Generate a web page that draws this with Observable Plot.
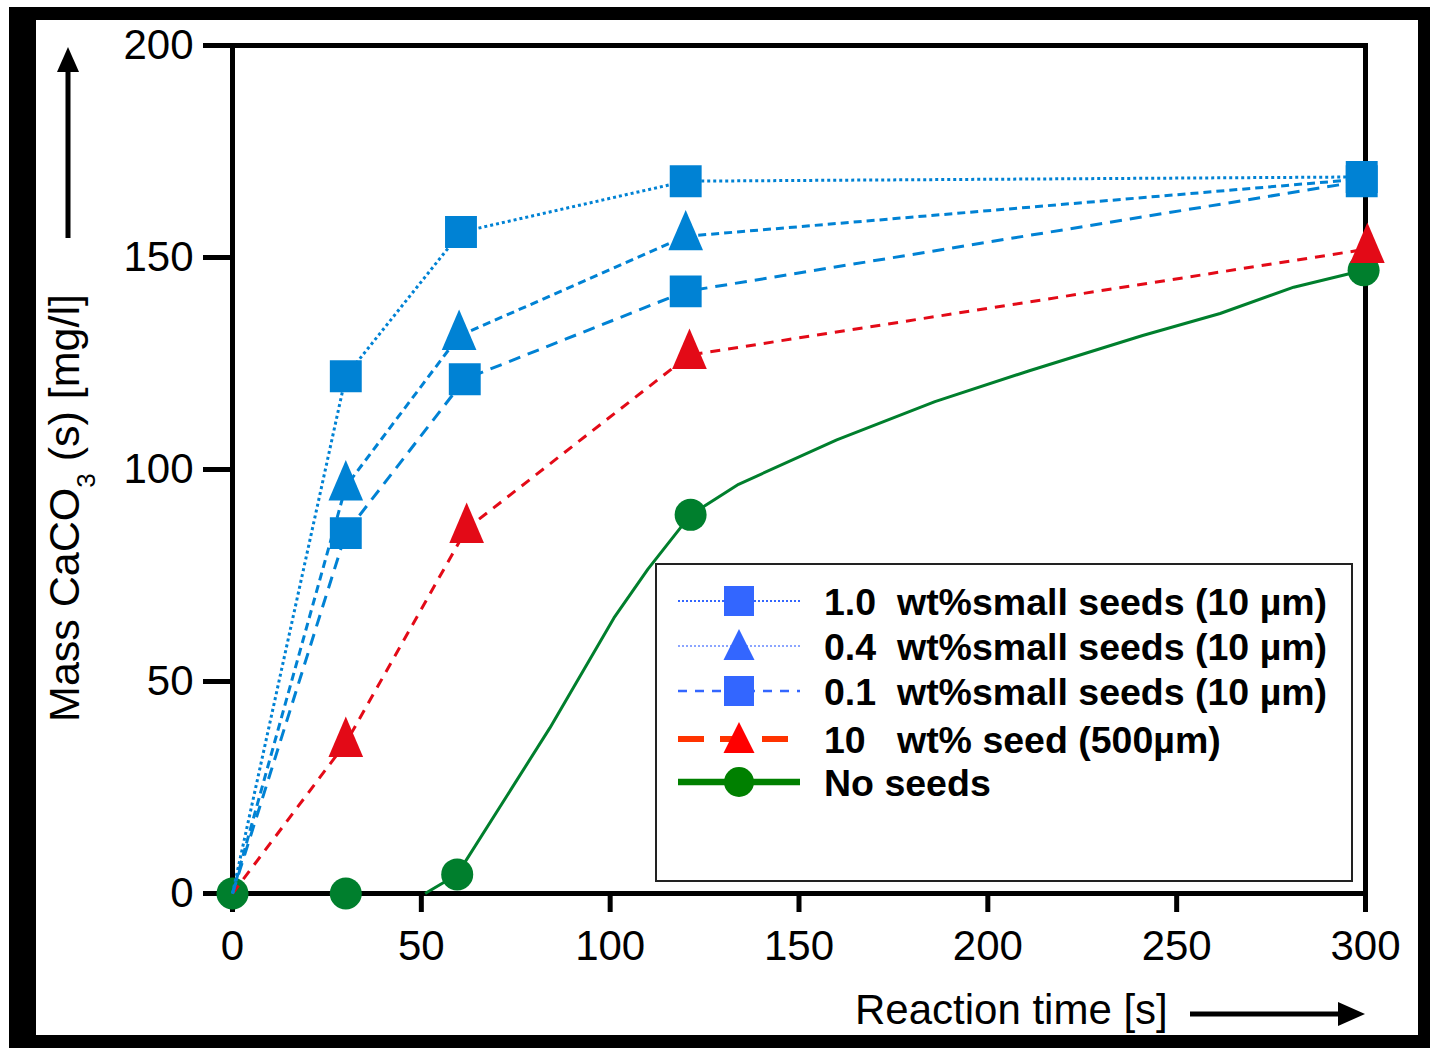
<!DOCTYPE html>
<html>
<head>
<meta charset="utf-8">
<script src="https://cdn.jsdelivr.net/npm/d3@7"></script>
<script src="https://cdn.jsdelivr.net/npm/@observablehq/plot@0.6"></script>
<style>
  html, body { margin: 0; padding: 0; background: #fff; }
  #wrap { position: relative; width: 1430px; height: 1048px; overflow: hidden; }
  #frame { position: absolute; left: 9px; top: 7px; width: 1421px; height: 1041px; box-sizing: border-box;
           border-left: 27px solid #000; border-top: 13px solid #000; border-right: 12px solid #000; border-bottom: 13px solid #000;
           pointer-events: none; }
  svg text { font-family: "Liberation Sans", Arial, sans-serif; }
</style>
</head>
<body>
<div id="wrap"><div id="frame"></div></div>
<script>
// ---- data ----
const xTicks = [0, 50, 100, 150, 200, 250, 300];
const yTicks = [0, 50, 100, 150, 200];

const t10 = [0, 30, 60.5, 120, 299];
const m10 = [0, 122, 156, 168, 169];

const t04 = [0, 30, 60, 120, 299];
const m04 = [0, 96, 131.5, 155, 168.5];

const t01 = [0, 30, 61.5, 120, 299];
const m01 = [0, 85, 121.3, 142, 168];

const tRed = [0, 30, 62, 121, 300.5];
const mRed = [0, 35.5, 86, 127, 152];

const tGreen = [0, 30, 59.5, 121.3, 299.5];
const mGreen = [0, 0, 4.5, 89.3, 147];

const tGreenCurve = [51, 59.5, 84, 101, 110, 121.3, 134, 160, 186, 211, 241, 261.5, 281, 299.5];
const mGreenCurve = [0, 4.5, 39, 65, 76.5, 89.3, 96.5, 107, 116, 123.3, 131.6, 136.8, 143, 147];

const legendLabels = [
  "1.0  wt%small seeds (10 µm)",
  "0.4  wt%small seeds (10 µm)",
  "0.1  wt%small seeds (10 µm)",
  "10   wt% seed (500µm)",
  "No seeds"
];

const BLUE = "#0082d4", RED = "#e30a17", GREEN = "#007f2d";
const zip = (ts, ms) => ts.map((t, i) => ({t, m: ms[i]}));

const d10 = zip(t10, m10), d04 = zip(t04, m04), d01 = zip(t01, m01);
const dRed = zip(tRed, mRed), dGreen = zip(tGreen, mGreen), dGreenCurve = zip(tGreenCurve, mGreenCurve);

// custom triangle: data point ~ 60% down the triangle
const tri = {
  draw(ctx, size) {
    const r = Math.sqrt(size / Math.PI);
    ctx.moveTo(0, -1.6 * r);
    ctx.lineTo(1.05 * r, 0.85 * r);
    ctx.lineTo(-1.05 * r, 0.85 * r);
    ctx.closePath();
  }
};

const lineOpts = (stroke, dash, w = 3) => ({x: "t", y: "m", stroke, strokeWidth: w, strokeDasharray: dash, strokeLinecap: "butt"});
const noZero = d => d.filter(p => p.t > 0);
// in the reference the 0.4 triangle at 300 s is hidden under the squares
const interior = d => d.filter(p => p.t > 0 && p.t < 290);

const chart = Plot.plot({
  width: 1430, height: 1048,
  marginLeft: 232, marginRight: 65, marginTop: 45, marginBottom: 155,
  x: {domain: [0, 300]},
  y: {domain: [0, 200]},
  style: {background: "transparent", overflow: "visible", fontFamily: "Liberation Sans, Arial, sans-serif", color: "#000"},
  marks: [
    Plot.axisX({ticks: xTicks, tickSize: 19, tickPadding: 18, strokeWidth: 5, fontSize: 42, label: null, tickFormat: d => String(d)}),
    Plot.axisY({ticks: yTicks, tickSize: 29, tickPadding: 10, strokeWidth: 5, fontSize: 42, label: null, tickFormat: d => String(d)}),
    Plot.frame({stroke: "#000", strokeWidth: 5}),
    // No seeds
    Plot.line(dGreenCurve, lineOpts(GREEN, null, 3)),
    Plot.dot(dGreen, {x: "t", y: "m", r: 16, fill: GREEN, symbol: "circle"}),
    // 10 wt% seed
    Plot.line(dRed, lineOpts(RED, "10,8", 3)),
    Plot.dot(noZero(dRed), {x: "t", y: "m", r: 16.5, fill: RED, symbol: tri}),
    // 0.4
    Plot.line(d04, lineOpts(BLUE, "8,5", 3)),
    Plot.dot(interior(d04), {x: "t", y: "m", r: 16.5, fill: BLUE, symbol: tri}),
    // 0.1
    Plot.line(d01, lineOpts(BLUE, "12,8", 3)),
    Plot.dot(noZero(d01), {x: "t", y: "m", r: 18, fill: BLUE, symbol: "square"}),
    // 1.0
    Plot.line(d10, lineOpts(BLUE, "3,3", 3)),
    Plot.dot(noZero(d10), {x: "t", y: "m", r: 18, fill: BLUE, symbol: "square"})
  ]
});

const wrap = document.getElementById("wrap");
wrap.insertBefore(chart, wrap.firstChild);
chart.style.position = "absolute";
chart.style.left = "0px";
chart.style.top = "0px";

const svg = d3.select(chart);

// y axis title
const yt = svg.append("text")
  .attr("transform", "translate(79,508) rotate(-90)")
  .attr("text-anchor", "middle")
  .attr("font-size", 43)
  .attr("fill", "#000");
yt.append("tspan").text("Mass CaCO");
yt.append("tspan").attr("font-size", 26).attr("dy", 16).text("3");
yt.append("tspan").attr("dy", -16).text(" (s) [mg/l]");

// y arrow
svg.append("line").attr("x1", 68).attr("y1", 238).attr("x2", 68).attr("y2", 68).attr("stroke", "#000").attr("stroke-width", 5);
svg.append("path").attr("d", "M57,72 L79,72 L68,47 Z").attr("fill", "#000");

// x axis title
svg.append("text").attr("x", 855).attr("y", 1024).attr("font-size", 42).attr("text-anchor", "start").attr("fill", "#000").text("Reaction time [s]");
svg.append("line").attr("x1", 1190).attr("y1", 1014).attr("x2", 1342).attr("y2", 1014).attr("stroke", "#000").attr("stroke-width", 5);
svg.append("path").attr("d", "M1338,1002 L1338,1026 L1365,1014 Z").attr("fill", "#000");

// legend
const lg = svg.append("g");
lg.append("rect").attr("x", 656).attr("y", 564).attr("width", 696).attr("height", 317)
  .attr("fill", "#fff").attr("stroke", "#222").attr("stroke-width", 2);
const LB = "#3366ff";
const rows = [601, 646, 691, 739, 782];
const samples = [
  {stroke: LB, w: 2, dash: "2,2", fill: LB, sym: "square"},
  {stroke: "#6688ff", w: 1.6, dash: "2,2", fill: LB, sym: "tri"},
  {stroke: LB, w: 2.5, dash: "9,8", fill: LB, sym: "square"},
  {stroke: "#ff3300", w: 6, dash: "26,16", fill: "#ff0000", sym: "tri"},
  {stroke: "#008000", w: 6.5, dash: null, fill: "#008000", sym: "circle"}
];
samples.forEach((s, i) => {
  const y = rows[i];
  const l = lg.append("line").attr("x1", 678).attr("x2", 800).attr("y1", y).attr("y2", y)
    .attr("stroke", s.stroke).attr("stroke-width", s.w);
  if (s.dash) l.attr("stroke-dasharray", s.dash);
  if (s.sym === "square") lg.append("rect").attr("x", 724).attr("y", y - 15).attr("width", 30).attr("height", 30).attr("fill", s.fill);
  if (s.sym === "tri") lg.append("path").attr("d", `M739,${y - 17} L754.5,${y + 14} L723.5,${y + 14} Z`).attr("fill", s.fill);
  if (s.sym === "circle") lg.append("ellipse").attr("cx", 739).attr("cy", y).attr("rx", 15).attr("ry", 15).attr("fill", s.fill);
  lg.append("text").attr("x", 824).attr("y", y + 14).attr("font-size", 37.5).attr("font-weight", "bold")
    .attr("text-anchor", "start").attr("fill", "#000").style("white-space", "pre").attr("xml:space", "preserve").text(legendLabels[i]);
});
</script>
</body>
</html>
